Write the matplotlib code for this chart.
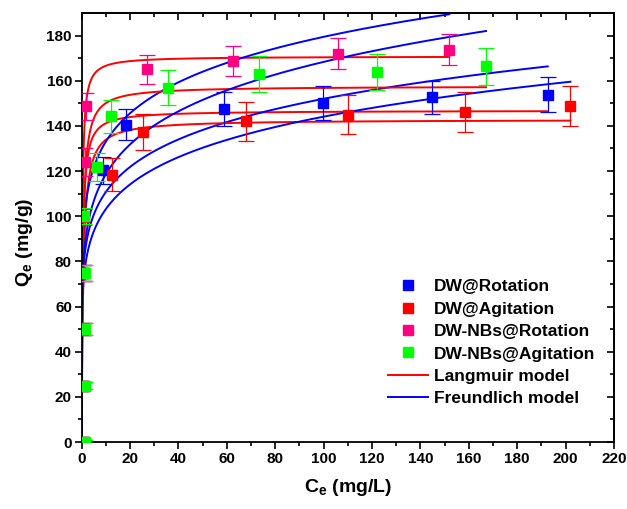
"""Adsorption isotherms: Qe vs Ce with Langmuir and Freundlich fits."""

import matplotlib

matplotlib.use("Agg")
import matplotlib.pyplot as plt
import numpy as np
from matplotlib.lines import Line2D

plt.rcParams["font.family"] = ["Liberation Sans", "DejaVu Sans"]
plt.rcParams["font.weight"] = "bold"
plt.rcParams["mathtext.fontset"] = "custom"
plt.rcParams["mathtext.rm"] = "Liberation Sans:bold"
plt.rcParams["mathtext.it"] = "Liberation Sans:bold"
plt.rcParams["mathtext.bf"] = "Liberation Sans:bold"

# measured points (Ce in mg/L, Qe in mg/g, error in mg/g)
dw_rot_ce = [0.6, 0.6, 0.6, 0.6, 9.0, 18.3, 58.9, 99.8, 144.6, 192.6]
dw_rot_qe = [0, 25, 50, 75, 120.3, 140.6, 147.6, 150.1, 152.6, 153.8]
dw_rot_err = [1, 1.5, 2.5, 3.5, 5.9, 7.0, 7.5, 7.4, 7.4, 7.7]

dw_agi_ce = [1.0, 1.0, 1.0, 1.0, 1.0, 12.6, 25.2, 67.9, 109.9, 158.4, 202.0]
dw_agi_qe = [0, 25, 50, 75, 99.7, 118.4, 137.3, 142.0, 144.9, 146.0, 148.7]
dw_agi_err = [1, 1.5, 2.5, 3.5, 3.5, 7.2, 8.0, 8.5, 8.7, 8.8, 8.9]

nb_rot_ce = [0.8, 0.8, 0.8, 0.8, 1.4, 1.8, 27.1, 62.7, 105.8, 151.9]
nb_rot_qe = [0, 25, 50, 75, 124.0, 148.7, 165.0, 168.7, 171.9, 173.8]
nb_rot_err = [1, 1.5, 2.5, 3.5, 6.0, 6.0, 6.6, 6.8, 6.9, 6.9]

nb_agi_ce = [1.2, 1.3, 1.3, 1.3, 1.0, 6.5, 12.0, 35.8, 73.3, 121.9, 167.1]
nb_agi_qe = [0, 25, 50, 75, 100.0, 121.8, 144.2, 156.9, 163.0, 163.8, 166.3]
nb_agi_err = [1, 1.5, 2.5, 3.5, 3.5, 6.0, 7.4, 7.8, 8.1, 8.1, 8.3]

# fitted model parameters per series
langmuir_qm = [146.8, 142.8, 170.8, 157.6]
langmuir_kl = [2.5, 1.5, 4.0, 2.0]
freundlich_kf = [80.7, 73.9, 98.7, 83.6]
freundlich_inv_n = [0.1375, 0.145, 0.1298, 0.152]

series = [
    ("DW@Rotation", dw_rot_ce, dw_rot_qe, dw_rot_err, "#0000FF"),
    ("DW@Agitation", dw_agi_ce, dw_agi_qe, dw_agi_err, "#FF0000"),
    ("DW-NBs@Rotation", nb_rot_ce, nb_rot_qe, nb_rot_err, "#FF0080"),
    ("DW-NBs@Agitation", nb_agi_ce, nb_agi_qe, nb_agi_err, "#00FF00"),
]

fig = plt.figure(figsize=(6.27, 5.09), dpi=100)
ax = fig.add_axes([0.1303, 0.1316, 0.8490, 0.8429])

# model curves
for i, (_, ce, _, _, _) in enumerate(series):
    c = np.linspace(0, max(ce), 3000)
    q_l = langmuir_qm[i] * langmuir_kl[i] * c / (1 + langmuir_kl[i] * c)
    q_f = freundlich_kf[i] * c ** freundlich_inv_n[i]
    ax.plot(c, q_l, color="#FF0000", lw=1.4, zorder=2)
    ax.plot(c, q_f, color="#0000FF", lw=1.4, zorder=2)

# data points with error bars
for label, ce, qe, err, color in series:
    ax.errorbar(ce, qe, yerr=err, fmt="s", color=color, ms=6.5, mec=color,
                ecolor=color, elinewidth=0.9, capsize=6, capthick=0.9,
                zorder=3)

ax.set_xlim(0, 220)
ax.set_ylim(0, 190)
ax.set_xticks(np.arange(0, 221, 20))
ax.set_yticks(np.arange(0, 181, 20))
ax.set_xticks(np.arange(0, 221, 10), minor=True)
ax.set_yticks(np.arange(0, 181, 10), minor=True)
ax.tick_params(which="both", direction="out", width=1.2, labelsize=11,
               top=False, right=False, pad=2)
ax.tick_params(which="major", length=5)
ax.tick_params(which="minor", length=3)
for sp in ax.spines.values():
    sp.set_linewidth(1.3)

# inward ticks on the top and right frame
top = ax.secondary_xaxis("top")
top.set_xticks(np.arange(0, 221, 20))
top.set_xticks(np.arange(0, 221, 10), minor=True)
top.tick_params(which="both", direction="in", width=1.2, labeltop=False)
top.tick_params(which="major", length=5)
top.tick_params(which="minor", length=3)
right = ax.secondary_yaxis("right")
right.set_yticks(np.arange(0, 181, 20))
right.set_yticks(np.arange(0, 181, 10), minor=True)
right.tick_params(which="both", direction="in", width=1.2, labelright=False)
right.tick_params(which="major", length=5)
right.tick_params(which="minor", length=3)
top.spines["top"].set_linewidth(1.3)
right.spines["right"].set_linewidth(1.3)

ax.set_xlabel("C$_\\mathregular{e}$ (mg/L)", fontsize=14, fontweight="bold",
              labelpad=8)
ax.set_ylabel("Q$_\\mathregular{e}$ (mg/g)", fontsize=14, fontweight="bold")
ax.yaxis.set_label_coords(-0.088, 0.465)

handles = [Line2D([], [], ls="none", marker="s", ms=6.5, color=s[4])
           for s in series]
handles += [Line2D([], [], color="#FF0000", lw=1.4),
            Line2D([], [], color="#0000FF", lw=1.4)]
labels = [s[0] for s in series] + ["Langmuir model", "Freundlich model"]
ax.legend(handles, labels, loc="upper left", bbox_to_anchor=(0.597, 0.479),
          bbox_transform=fig.transFigure, frameon=False, fontsize=12.5,
          handlelength=2.3, handletextpad=0.35, labelspacing=0.42,
          borderpad=0.3)

fig.savefig("out.png", dpi=100)
